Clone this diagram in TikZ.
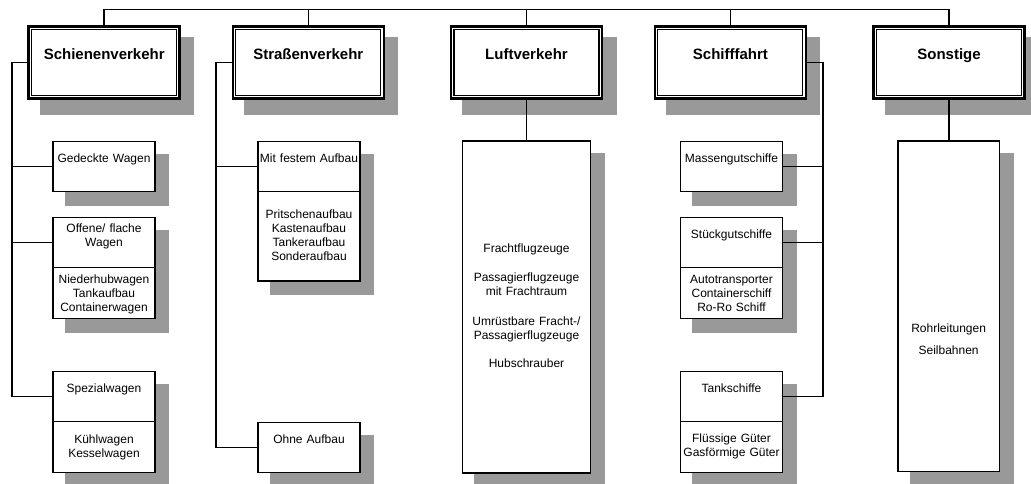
\documentclass[tikz,border=0pt]{standalone}
\usepackage{fontspec}
\setmainfont{Liberation Sans}
\definecolor{shadowgray}{RGB}{153,153,153}
\pgfdeclarelayer{shadows}
\pgfdeclarelayer{links}
\pgfsetlayers{shadows,links,main}
\begin{document}
\begin{tikzpicture}[x=1pt,y=-1pt,
  link/.style={line width=1.6pt},
  box/.style={draw,line width=1.6pt,fill=white,inner sep=0pt,outer sep=0pt,
    minimum width=101.5pt,minimum height=50pt},
  tall/.style={box,minimum height=#1},
  header/.style={draw,line width=2.6pt,fill=white,inner sep=0pt,outer sep=0pt,
    minimum width=151pt,minimum height=72.5pt,
    path picture={\draw[line width=1.1pt]
      ([shift={(3pt,-3pt)}]path picture bounding box.north west) rectangle
      ([shift={(-3pt,3pt)}]path picture bounding box.south east);}},
  htext/.style={font=\fontsize{15}{18}\selectfont\bfseries,anchor=base,inner sep=0pt},
  ltext/.style={font=\fontsize{12}{14}\selectfont,anchor=base,inner sep=0pt,
    text width=124pt,align=center},
  shade/.style={fill=shadowgray},
]
\useasboundingbox (0,0) rectangle (1031,483);

% top-level categories
\node[header] (h1) at (104.2,62.5) {};
\node[header] (h2) at (308.3,62.5) {};
\node[header] (h3) at (526.5,62.5) {};
\node[header] (h4) at (730.4,62.5) {};
\node[header] (h5) at (949,62.5) {};

% rail
\node[box] (g1) at (104,166.5) {};
\node[box] (o1) at (104,242.5) {};
\node[tall=51pt] (o2) at (104,293) {};
\node[box] (s1) at (104,396.5) {};
\node[tall=51pt] (s2) at (104,447) {};

% road
\node[box] (m1) at (309,166.5) {};
\node[tall=89.3pt] (m2) at (309,236.15) {};
\node[box] (n1) at (309,447.5) {};

% air
\node[tall=331.5pt,minimum width=128.3pt] (l1) at (526.5,307) {};

% shipping
\node[box,minimum width=102.3pt] (k1) at (731.5,166.5) {};
\node[box,minimum width=102.3pt] (k2) at (731.5,242.5) {};
\node[tall=51pt,minimum width=102.3pt] (k3) at (731.5,293) {};
\node[box,minimum width=102.3pt] (t1) at (731.5,396.5) {};
\node[tall=51pt,minimum width=102.3pt] (t2) at (731.5,447) {};

% other
\node[tall=330.5pt] (r1) at (948.6,306.25) {};

% drop shadows
\begin{pgfonlayer}{shadows}
  \foreach \h in {h1,h2,h3,h4,h5}
    \fill[shade] ([shift={(11,11)}]\h.north west) rectangle ([shift={(14.5,16)}]\h.south east);
  \foreach \a/\b in {g1/g1,o1/o2,s1/s2,m1/m2,n1/n1,l1/l1,k1/k1,k2/k3,t1/t2,r1/r1}
    \fill[shade] ([shift={(12,12)}]\a.north west) rectangle ([shift={(14.5,14.5)}]\b.south east);
\end{pgfonlayer}

% connectors
\begin{pgfonlayer}{links}
  \coordinate (topbus) at (0,9.5);
  \coordinate (railbus) at (12,62.5);
  \coordinate (roadbus) at (215.8,62.5);
  \coordinate (seabus) at (823.2,62.5);
  \draw[link] (h1.north) -- (h1.north |- topbus) -- (h5.north |- topbus) -- (h5.north);
  \foreach \h in {h2,h3,h4}
    \draw[link] (\h.north) -- (\h.north |- topbus);
  \draw[link] (h1.west) -- (railbus) |- (s1.west);
  \draw[link] (railbus |- g1.west) -- (g1.west);
  \draw[link] (railbus |- o1.west) -- (o1.west);
  \draw[link] (h2.west) -- (roadbus) |- (n1.west);
  \draw[link] (roadbus |- m1.west) -- (m1.west);
  \draw[link] (h3.south) -- (h3.south |- l1.north);
  \draw[link] (h4.east) -- (seabus) |- (t1.east);
  \draw[link] (seabus |- k1.east) -- (k1.east);
  \draw[link] (seabus |- k2.east) -- (k2.east);
  \draw[link] (h5.south) -- (h5.south |- r1.north);
\end{pgfonlayer}

% labels
\node[htext] (h1t) at (104.2,59.3) {Schienenverkehr};
\node[htext] (h2t) at (308.3,59.3) {Straßenverkehr};
\node[htext] (h3t) at (526.5,59.3) {Luftverkehr};
\node[htext] (h4t) at (730.4,59.3) {Schifffahrt};
\node[htext] (h5t) at (949,59.3) {Sonstige};

\node[ltext] (g1t) at (104,162.7) {Gedeckte Wagen};
\node[ltext] (o1t) at (104,232.7) {Offene/ flache\\Wagen};
\node[ltext] (o2t) at (104,283.3) {Niederhubwagen\\Tankaufbau\\Containerwagen};
\node[ltext] (s1t) at (104,392.5) {Spezialwagen};
\node[ltext] (s2t) at (104,443.3) {Kühlwagen\\Kesselwagen};

\node[ltext] (m1t) at (309,162.7) {Mit festem Aufbau};
\node[ltext] (m2t) at (309,218.3) {Pritschenaufbau\\Kastenaufbau\\Tankeraufbau\\Sonderaufbau};
\node[ltext] (n1t) at (309,443.5) {Ohne Aufbau};

\node[ltext] (l1t) at (526.5,252.7) {Frachtflugzeuge\\[15pt]Passagierflugzeuge\\mit Frachtraum\\[16pt]Umrüstbare Fracht-/\\Passagierflugzeuge\\[13.5pt]Hubschrauber};

\node[ltext] (k1t) at (731.5,162.7) {Massengutschiffe};
\node[ltext] (k2t) at (731.5,238.9) {Stückgutschiffe};
\node[ltext] (k3t) at (731.5,283.3) {Autotransporter\\Containerschiff\\Ro-Ro Schiff};
\node[ltext] (t1t) at (731.5,392.2) {Tankschiffe};
\node[ltext] (t2t) at (731.5,442.9) {Flüssige Güter\\Gasförmige Güter};

\node[ltext] (r1t) at (948.6,332.7) {Rohrleitungen\\[7.6pt]Seilbahnen};
\end{tikzpicture}
\end{document}
